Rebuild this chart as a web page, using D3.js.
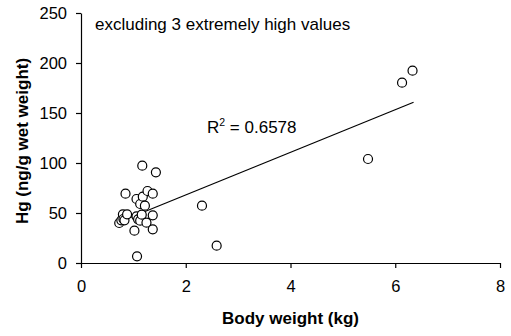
<!DOCTYPE html>
<html>
<head>
<meta charset="utf-8">
<script src="https://cdn.jsdelivr.net/npm/d3@7"></script>
<style>
  html, body { margin: 0; padding: 0; background: #fff; }
  svg { display: block; font-family: "Liberation Sans", Arial, sans-serif; }
</style>
</head>
<body>
<svg id="chart" width="511" height="336"></svg>
<script>
// Data
const bodyWeight = [0.73, 0.77, 0.80, 0.81, 0.83, 0.85, 0.88, 1.02, 1.06, 1.06, 1.07, 1.09, 1.13, 1.13, 1.16, 1.17, 1.18, 1.22, 1.25, 1.27, 1.37, 1.37, 1.37, 1.43, 2.31, 2.59, 5.48, 6.13, 6.33];
const hgValues   = [40, 42.7, 48.7, 44, 42.7, 69.3, 48.7, 32.3, 64, 46.7, 6.7, 43.7, 59, 42.3, 48.3, 97.3, 66.3, 57.3, 40.3, 72, 69.3, 47.7, 33.7, 90.7, 57.3, 17.3, 104, 180.3, 192.3];
const trendX = [0.73, 6.35];
const trendY = [41, 160.7];
const xTicks = [0, 2, 4, 6, 8];
const yTicks = [0, 50, 100, 150, 200, 250];
const annotation = "excluding 3 extremely high values";
const r2Label = "0.6578";
const xTitle = "Body weight (kg)";
const yTitle = "Hg (ng/g wet weight)";

const svg = d3.select("#chart");
const x = d3.scaleLinear().domain([0, 8]).range([81, 500]);
const y = d3.scaleLinear().domain([0, 250]).range([263, 13]);

// Axes
const xAxis = svg.append("g").attr("transform", `translate(0,${y(0)})`)
  .call(d3.axisBottom(x).tickValues(xTicks).tickSize(5).tickPadding(12).tickSizeOuter(0));
const yAxis = svg.append("g").attr("transform", `translate(${x(0)},0)`)
  .call(d3.axisLeft(y).tickValues(yTicks).tickSize(5).tickPadding(9).tickSizeOuter(0));
[xAxis, yAxis].forEach(g => {
  g.selectAll("path").attr("stroke", "#000").attr("stroke-width", 1.2);
  g.selectAll("line").attr("stroke", "#000").attr("stroke-width", 1.2);
  g.selectAll("text").attr("fill", "#000").style("font-size", "16.5px")
    .style("font-family", "'Liberation Sans', Arial, sans-serif");
});

// Trend line
svg.append("line")
  .attr("x1", x(trendX[0])).attr("y1", y(trendY[0]))
  .attr("x2", x(trendX[1])).attr("y2", y(trendY[1]))
  .attr("stroke", "#000").attr("stroke-width", 1.2);

// Points
svg.append("g").selectAll("circle")
  .data(bodyWeight.map((d, i) => [d, hgValues[i]]))
  .join("circle")
  .attr("cx", d => x(d[0])).attr("cy", d => y(d[1]))
  .attr("r", 4.5)
  .attr("fill", "#fff").attr("stroke", "#000").attr("stroke-width", 1.2);

// Annotation
svg.append("text").attr("x", 95).attr("y", 30)
  .style("font-size", "17px").text(annotation);

const r2 = svg.append("text").attr("x", 207).attr("y", 133).style("font-size", "17px");
r2.append("tspan").text("R");
r2.append("tspan").attr("dy", -7).style("font-size", "10.5px").text("2");
r2.append("tspan").attr("dy", 7).text(" = " + r2Label);

// Axis titles
svg.append("text").attr("x", (x(0) + x(8)) / 2).attr("y", 324)
  .attr("text-anchor", "middle").style("font-size", "17px").style("font-weight", "bold")
  .text(xTitle);
svg.append("text").attr("transform", `translate(28,${y(122)}) rotate(-90)`)
  .attr("text-anchor", "middle").style("font-size", "17px").style("font-weight", "bold")
  .text(yTitle);
</script>
</body>
</html>
